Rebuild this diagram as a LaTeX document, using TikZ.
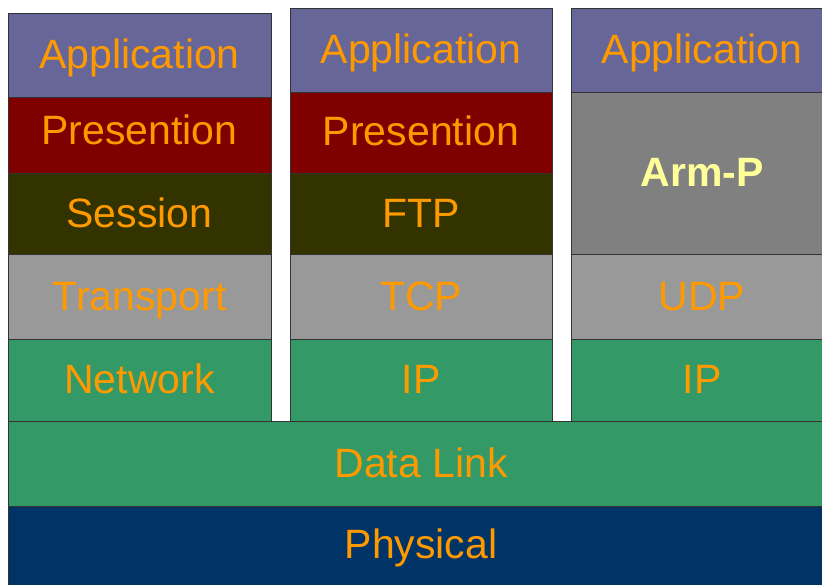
\documentclass[tikz,border=0pt]{standalone}
\usepackage{fontspec}
\setmainfont{Liberation Sans}
\definecolor{appc}{HTML}{666699}
\definecolor{presc}{HTML}{800000}
\definecolor{sessc}{HTML}{333300}
\definecolor{transc}{HTML}{999999}
\definecolor{netc}{HTML}{339966}
\definecolor{armc}{HTML}{808080}
\definecolor{physc}{HTML}{003366}
\definecolor{txtc}{HTML}{FF9900}
\definecolor{armtxt}{HTML}{FFFF99}
\begin{document}
\begin{tikzpicture}[x=1pt,y=-1pt,
  layer/.style={draw=black!80, line width=1pt, inner sep=0pt, outer sep=0pt,
    anchor=north west, fill=#1},
  lbl/.style={text=txtc, font=\fontsize{41}{48}\selectfont, inner sep=0pt,
    text height=29.5pt, text depth=0pt, yshift=1pt},
]
\useasboundingbox (0,0) rectangle (822,584);
% column 1
\node[layer=appc,  minimum width=263pt, minimum height=84pt] (a1) at (8,13) {};
\node[layer=presc, minimum width=263pt, minimum height=76pt] (p1) at (8,97) {};
\node[layer=sessc, minimum width=263pt, minimum height=81pt] (s1) at (8,173) {};
\node[layer=transc, minimum width=263pt, minimum height=85pt] (t1) at (8,254) {};
\node[layer=netc,  minimum width=263pt, minimum height=82pt] (n1) at (8,339) {};
% column 2
\node[layer=appc,  minimum width=262pt, minimum height=84pt] (a2) at (290,8) {};
\node[layer=presc, minimum width=262pt, minimum height=81pt] (p2) at (290,92) {};
\node[layer=sessc, minimum width=262pt, minimum height=81pt] (f2) at (290,173) {};
\node[layer=transc, minimum width=262pt, minimum height=85pt] (t2) at (290,254) {};
\node[layer=netc,  minimum width=262pt, minimum height=82pt] (n2) at (290,339) {};
% column 3
\node[layer=appc,  minimum width=262pt, minimum height=84pt] (a3) at (571,8) {};
\node[layer=armc,  minimum width=262pt, minimum height=162pt] (r3) at (571,92) {};
\node[layer=transc, minimum width=262pt, minimum height=85pt] (u3) at (571,254) {};
\node[layer=netc,  minimum width=262pt, minimum height=82pt] (n3) at (571,339) {};
% bottom
\node[layer=netc,  minimum width=826pt, minimum height=85pt] (dl) at (8,421) {};
\node[layer=physc, minimum width=826pt, minimum height=82pt] (ph) at (8,506) {};
% labels
\node[lbl] at (a1.center) {Application};
\node[lbl, yshift=4pt] at (p1.center) {Presention};
\node[lbl] at (s1.center) {Session};
\node[lbl] at (t1.center) {Transport};
\node[lbl] at (n1.center) {Network};
\node[lbl] at (a2.center) {Application};
\node[lbl, yshift=1pt] at (p2.center) {Presention};
\node[lbl] at (f2.center) {FTP};
\node[lbl] at (t2.center) {TCP};
\node[lbl] at (n2.center) {IP};
\node[lbl] at (a3.center) {Application};
\node[lbl, text=armtxt, font=\fontsize{41}{48}\selectfont\bfseries] at (r3.center) {Arm-P};
\node[lbl] at (u3.center) {UDP};
\node[lbl] at (n3.center) {IP};
\node[lbl] at (dl.center) {Data Link};
\node[lbl, yshift=2pt] at (ph.center) {Physical};
\end{tikzpicture}
\end{document}
